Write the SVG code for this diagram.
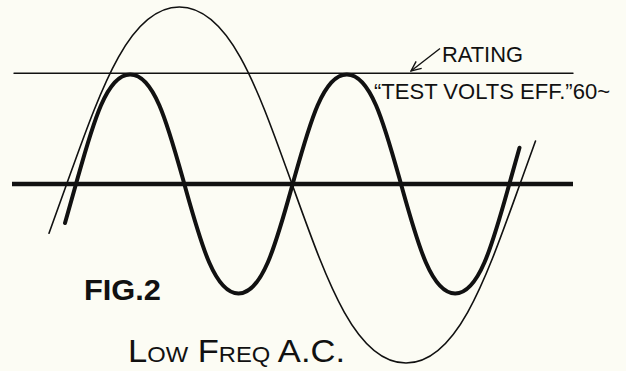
<svg xmlns="http://www.w3.org/2000/svg" width="626" height="371" viewBox="0 0 626 371">
<defs>
<style>
.thin{fill:none;stroke:#111;stroke-width:1.6;stroke-linecap:round}
.thick{fill:none;stroke:#111;stroke-width:4;stroke-linecap:round;stroke-linejoin:round}
.lbl{font-family:"Liberation Sans",Arial,sans-serif;fill:#111}
</style>
<marker id="vhead" viewBox="0 0 12 12" refX="1" refY="6" markerWidth="12" markerHeight="12" markerUnits="userSpaceOnUse" orient="auto">
<path d="M11,1.5 L1,6 L11,10.5" fill="none" stroke="#111" stroke-width="1.4"/>
</marker>
</defs>
<rect width="626" height="371" fill="#fcfcf4"/>
<g id="rating-line"><line class="thin" x1="14" y1="73.3" x2="573" y2="73.3" style="stroke-width:1.4"/></g>
<g id="axis"><line class="thick" x1="12" y1="184" x2="573" y2="184" style="stroke-width:4.5;stroke-linecap:butt"/></g>
<g id="low-freq-wave">
<path class="thin" d="M49,233.2 L66.7,184 C100.5,90.2 128.66,7 179.35,7 C230.04,7 258.2,90.2 292,184 C326.2,278.9 354.7,363 406,363 C457.3,363 485.8,278.9 520,184 L535.5,141"/>
</g>
<g id="test-wave">
<path class="thick" d="M65,223 L76,184 C92.25,126 105.79,74.5 130.17,74.5 C154.54,74.5 168.08,126 184.33,184 C200.58,242 214.12,293.5 238.5,293.5 C262.87,293.5 276.42,242 292.67,184 C308.92,126 322.46,74.5 346.83,74.5 C371.21,74.5 384.75,126 401,184 C417.25,242 430.79,293.5 455.17,293.5 C479.54,293.5 493.08,242 509.33,184 L519.5,147.7"/>
</g>
<g id="connectors">
<line x1="411" y1="71" x2="440" y2="48.5" stroke="#111" stroke-width="1.4" marker-start="url(#vhead)"/>
</g>
<g id="label-rating"><text class="lbl" x="442" y="62" font-size="22.5" textLength="81" lengthAdjust="spacingAndGlyphs">RATING</text></g>
<g id="label-test"><text class="lbl" x="374" y="98.5" font-size="22.5" textLength="236" lengthAdjust="spacingAndGlyphs">“TEST VOLTS EFF.”60~</text></g>
<g id="label-fig"><text class="lbl" x="84" y="300" font-size="30" font-weight="bold" textLength="77" lengthAdjust="spacingAndGlyphs">FIG.2</text></g>
<g id="label-lowfreq"><text class="lbl" x="128" y="362" font-size="32" font-variant="small-caps" textLength="217" lengthAdjust="spacingAndGlyphs">Low Freq A.C.</text></g>
</svg>
